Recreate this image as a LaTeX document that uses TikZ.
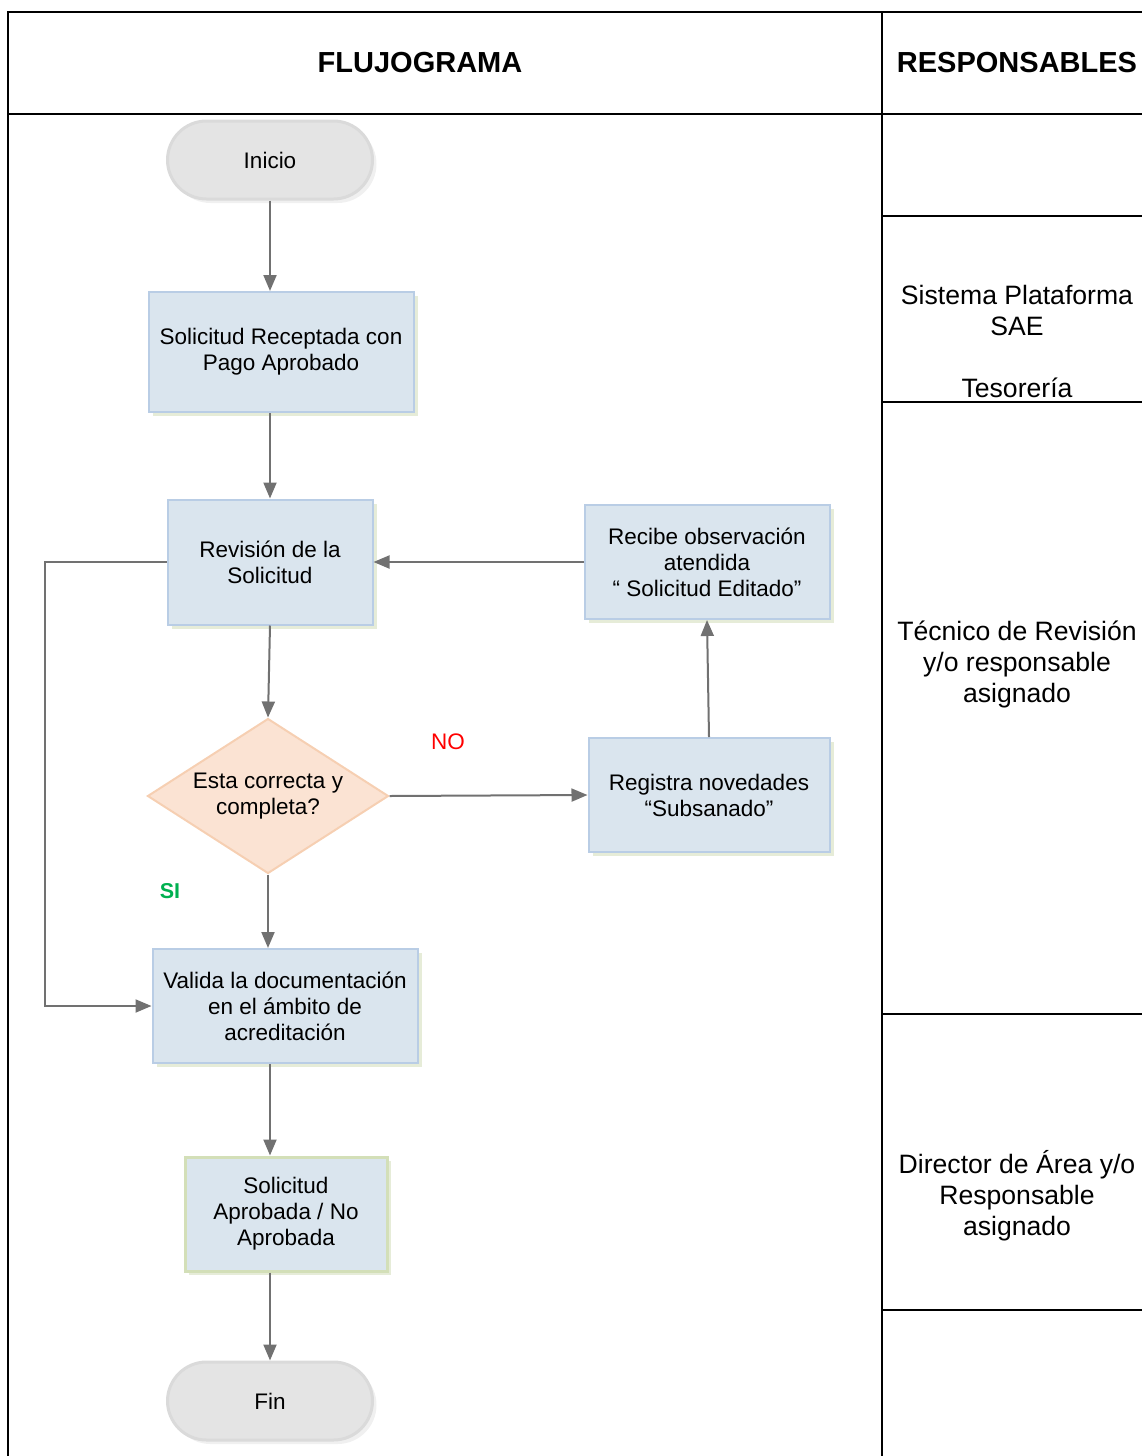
\documentclass[tikz,border=0pt]{standalone}
\usepackage{fontspec}
\setmainfont{Liberation Sans}
\usetikzlibrary{arrows.meta,shapes.geometric,shadows}
\definecolor{boxfill}{HTML}{DAE5EE}
\definecolor{boxline}{HTML}{B9CDE5}
\definecolor{shadowcol}{HTML}{E6ECD8}
\definecolor{pillfill}{HTML}{E4E4E4}
\definecolor{pillline}{HTML}{DADADA}
\definecolor{diafill}{HTML}{FBE3D3}
\definecolor{dialine}{HTML}{F6CFB2}
\definecolor{greenline}{HTML}{D3DFB8}
\definecolor{arrowcol}{HTML}{717171}
\definecolor{sigreen}{HTML}{00B050}
\begin{document}
\begin{tikzpicture}[x=1pt,y=-1pt,
  every node/.style={font=\fontsize{22.5}{26}\selectfont, align=center, inner sep=0pt},
  tabline/.style={line width=2pt, black},
  procbox/.style={rectangle, fill=boxfill, draw=boxline, line width=2pt,
    drop shadow={shadow xshift=4pt, shadow yshift=-4pt, fill=shadowcol, opacity=1}},
  pill/.style={rectangle, rounded corners=39pt, minimum width=205pt, minimum height=78pt,
    fill=pillfill, draw=pillline, line width=3pt,
    drop shadow={shadow xshift=4pt, shadow yshift=-4pt, fill=black!6, opacity=1}},
  decision/.style={diamond, aspect=1.55, minimum width=241pt, minimum height=155pt,
    fill=diafill, draw=dialine, line width=2pt},
  flow/.style={draw=arrowcol, line width=2pt, -{Triangle[length=16pt,width=13pt]}},
  headtxt/.style={font=\fontsize{29}{32}\selectfont\bfseries},
  resptxt/.style={font=\fontsize{26.6}{31}\selectfont}
]
\useasboundingbox (0,0) rectangle (1142,1456);
% table
\draw[tabline] (8,1460) -- (8,12) -- (1146,12);
\draw[tabline] (8,114) -- (1146,114);
\draw[tabline] (882,12) -- (882,1460);
\draw[tabline] (882,216) -- (1146,216);
\draw[tabline] (882,402) -- (1146,402);
\draw[tabline] (882,1014) -- (1146,1014);
\draw[tabline] (882,1310) -- (1146,1310);
\node[headtxt] (h1) at (420,63) {FLUJOGRAMA};
\node[headtxt] (h2) at (1017,63) {RESPONSABLES};
\node[resptxt] (r1) at (1017,341) {Sistema Plataforma\\SAE\\[31pt]Tesorería};
\node[resptxt] (r2) at (1017,664) {Técnico de Revisión\\y/o responsable\\asignado};
\node[resptxt] (r3) at (1017,1196) {Director de Área y/o\\Responsable\\asignado};
% nodes
\node[pill] (ini) at (270,160) {Inicio};
\node[procbox, minimum width=265pt, minimum height=120pt] (sol) at (281,352) {Solicitud Receptada con\\Pago Aprobado};
\node[procbox, minimum width=205pt, minimum height=125pt] (rev) at (270,562) {Revisión de la\\Solicitud};
\node[procbox, minimum width=245pt, minimum height=114pt] (rec) at (707,562) {Recibe observación\\atendida\\“ Solicitud Editado”};
\node[decision] (dia) at (268,796) {Esta correcta y\\completa?};
\node[procbox, minimum width=241pt, minimum height=114pt] (reg) at (709,795) {Registra novedades\\“Subsanado”};
\node[procbox, minimum width=265pt, minimum height=114pt] (val) at (285,1006) {Valida la documentación\\en el ámbito de\\acreditación};
\node[procbox, draw=greenline, line width=3pt, minimum width=202pt, minimum height=114pt] (apr) at (286,1214) {Solicitud\\Aprobada / No\\Aprobada};
\node[pill] (fin) at (270,1401) {Fin};
\node[text=red] (no) at (448,742) {NO};
\node[text=sigreen, font=\fontsize{21.5}{24}\selectfont\bfseries] (si) at (170,891) {SI};
\coordinate (loopx) at (45,0);
% connectors
\draw[flow] (ini.south) -- (ini.south |- sol.north);
\draw[flow] (ini.south |- sol.south) -- (rev.north);
\draw[flow] (rev.south) -- (dia.north);
\draw[flow] (dia.south) -- (dia.south |- val.north);
\draw[flow] (ini.south |- val.south) -- (ini.south |- apr.north);
\draw[flow] (ini.south |- apr.south) -- (fin.north);
\draw[flow] (dia.east) -- (reg.west);
\draw[flow] (reg.north) -- (rec.south);
\draw[flow] (rec.west) -- (rev.east);
\draw[flow] (rev.west) -- (rev.west -| loopx) |- (val.west);
\end{tikzpicture}
\end{document}
